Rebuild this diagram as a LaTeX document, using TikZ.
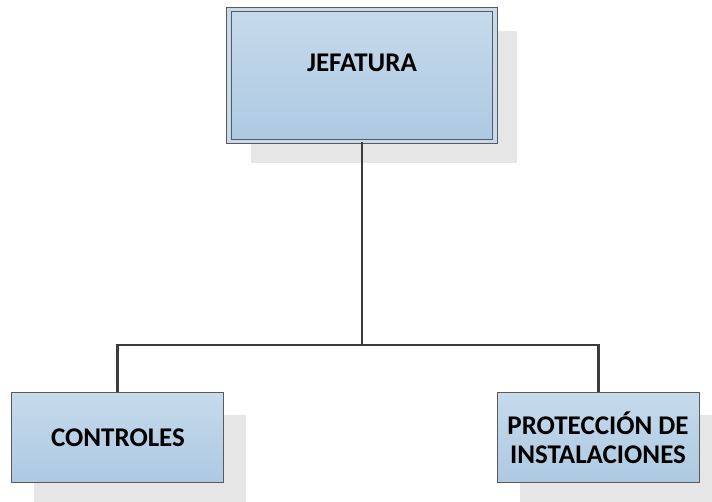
\documentclass[tikz,border=0pt]{standalone}
\usepackage{fontspec}
\setmainfont{Carlito}
\usetikzlibrary{shadows}

\definecolor{boxtop}{HTML}{C6DAEB}
\definecolor{boxbottom}{HTML}{ADC9E2}
\definecolor{boxline}{HTML}{5A5A5A}
\definecolor{shadowgray}{HTML}{E6E6E6}
\definecolor{wire}{HTML}{3C3C3C}

\tikzset{
    unit/.style={rectangle, draw=boxline, line width=1pt, top color=boxtop, bottom color=boxbottom,
        drop shadow={shadow xshift=22pt, shadow yshift=-22pt, fill=shadowgray, opacity=1}},
    headunit/.style={unit, double=boxtop, double distance=3.5pt},
    unittext/.style={font=\bfseries\fontsize{27}{29}\selectfont, align=center, inner sep=0pt},
    wire/.style={draw=wire, line width=2.5pt}
}

\begin{document}
\begin{tikzpicture}[x=1pt, y=-1pt]
    \useasboundingbox (0, 0) rectangle (712, 502);

    % cajas
    \node[headunit, minimum width=266, minimum height=132] (jefatura) at (362, 75.5) {};
    \node[unittext] (jefaturatxt) at (362, 63) {JEFATURA};

    \node[unit, minimum width=212, minimum height=90] (controles) at (117.5, 437.5) {};
    \node[unittext] (controlestxt) at (118, 438) {CONTROLES};

    \node[unit, minimum width=202, minimum height=90] (proteccion) at (598.5, 437.5) {};
    \node[unittext] (protecciontxt) at (598, 437.5) {PROTECCIÓN DE\\INSTALACIONES};

    % conexiones
    \coordinate (bus) at (362, 345);
    \draw[wire] (jefatura.south) -- (jefatura.south |- bus);
    \draw[wire] (controles.north) -- (controles.north |- bus) -- (proteccion.north |- bus) -- (proteccion.north);
\end{tikzpicture}
\end{document}
